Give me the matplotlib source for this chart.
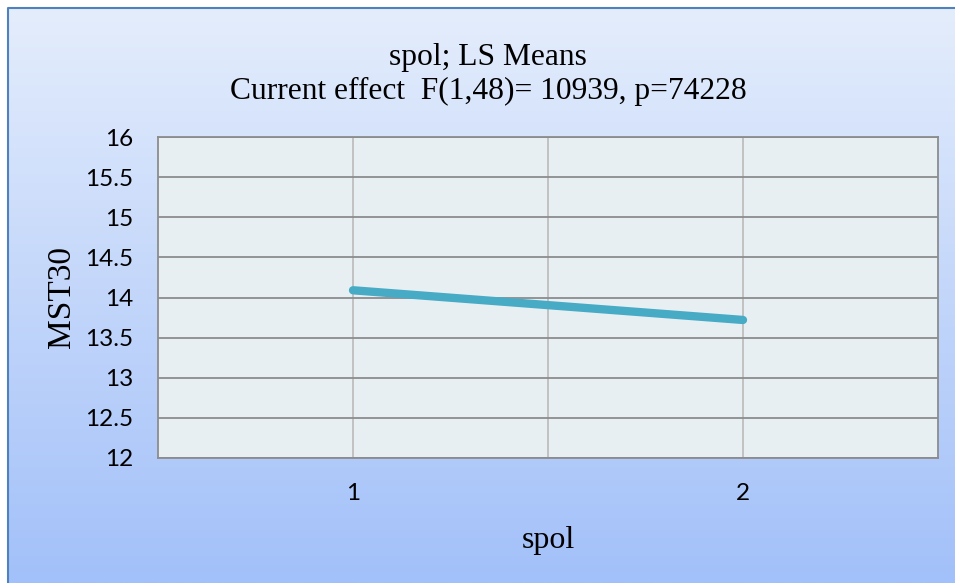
import matplotlib.pyplot as plt
import numpy as np

# data
spol = [1, 2]
mst30 = [14.09, 13.72]
yticks = [12, 12.5, 13, 13.5, 14, 14.5, 15, 15.5, 16]
ylabels = ['12', '12.5', '13', '13.5', '14', '14.5', '15', '15.5', '16']
title = 'spol; LS Means\nCurrent effect  F(1,48)= 10939, p=74228'

fig = plt.figure(figsize=(9.55, 5.83), dpi=100)

# gradient background with border
bg = fig.add_axes([0, 0, 1, 1], zorder=-10)
grad = np.linspace(0, 1, 256).reshape(-1, 1)
top = np.array([0xE4, 0xED, 0xFC]) / 255.0
bot = np.array([0xA2, 0xC0, 0xF9]) / 255.0
img = top + (bot - top) * grad[:, :, None]
bg.imshow(img, aspect='auto', extent=[8 / 955, 1.0, 0, 1 - 8 / 583])
bg.plot([8 / 955, 8 / 955, 1.0], [0, 1 - 8 / 583, 1 - 8 / 583], color='#4F81BD', lw=1.5)
bg.set_xlim(0, 1)
bg.set_ylim(0, 1)
bg.axis('off')

ax = fig.add_axes([158 / 955, 125 / 583, 780 / 955, 321 / 583])
ax.set_facecolor('#E8EFF3')
ax.plot(spol, mst30, color='#47ABC6', lw=6, solid_capstyle='round', zorder=3)
ax.set_xlim(0.5, 2.5)
ax.set_ylim(12, 16)
ax.set_yticks(yticks)
ax.set_yticklabels(ylabels, fontfamily='Lato', fontsize=17.5)
ax.set_xticks([1, 2])
ax.set_xticklabels(['1', '2'], fontfamily='Lato', fontsize=17.5)
ax.set_xticks([1.5], minor=True)
ax.tick_params(axis='both', which='both', length=0)
ax.tick_params(axis='x', pad=18)
ax.tick_params(axis='y', pad=18)
ax.grid(axis='y', color='#8C8C8C', lw=1.3)
ax.grid(axis='x', which='both', color='#BEBEBE', lw=1.3)
ax.set_axisbelow(True)
for s in ax.spines.values():
    s.set_color('#8C8C8C')
    s.set_linewidth(1.3)

ax.set_xlabel('spol', fontfamily='Liberation Serif', fontsize=23, labelpad=16)
ax.set_ylabel('MST30', fontfamily='Liberation Serif', fontsize=24, labelpad=6)
fig.text(0.511, 0.872, title, ha='center', va='center', fontfamily='Liberation Serif',
         fontsize=22.7, linespacing=1.2)

fig.savefig('out.png', dpi=100)
